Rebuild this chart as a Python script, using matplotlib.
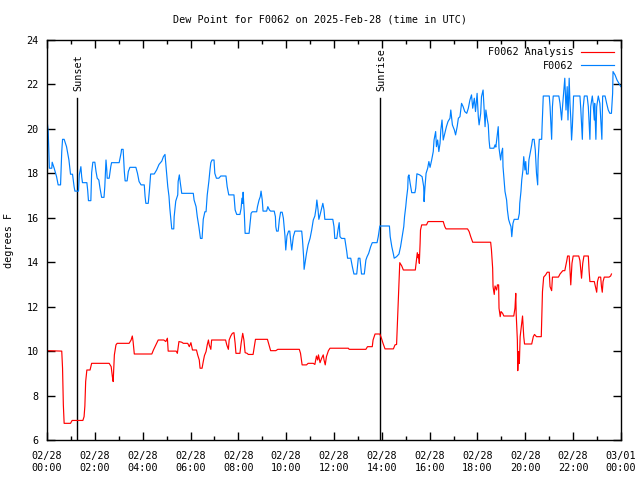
import numpy as np
import matplotlib
matplotlib.use("Agg")
from matplotlib import pyplot as plt
from matplotlib.ticker import MultipleLocator

# observed dew point (F0062), minutes after 00:00 UTC and degrees F
obs_min = [0, 3, 5, 6, 12, 13, 18, 24, 28, 34, 37, 39, 43, 49, 55, 58, 59, 64, 68, 70,
           79, 81, 85, 87, 89, 100, 102, 104, 110, 112, 115, 120, 123, 126, 130, 133, 137, 143, 145, 148,
           150, 151, 156, 160, 162, 181, 183, 186, 187, 191, 194, 196, 201, 204, 208, 223, 227, 231, 236, 244,
           246, 248, 254, 257, 260, 269, 275, 281, 288, 292, 296, 298, 303, 306, 308, 311, 313, 318, 319, 323,
           328, 329, 332, 334, 338, 367, 369, 374, 377, 381, 385, 389, 392, 396, 399, 402, 406, 409, 411, 414,
           419, 421, 425, 431, 436, 449, 452, 456, 469, 472, 476, 484, 487, 489, 491, 492, 495, 497, 507, 509,
           512, 515, 526, 528, 532, 535, 537, 540, 542, 551, 554, 558, 561, 570, 573, 574, 576, 580, 583, 586,
           590, 593, 597, 599, 602, 606, 609, 612, 614, 618, 622, 639, 641, 644, 645, 648, 651, 655, 660, 664,
           668, 672, 675, 677, 680, 682, 685, 689, 692, 695, 697, 717, 720, 722, 727, 730, 733, 735, 739, 747,
           752, 754, 762, 766, 770, 777, 781, 785, 789, 796, 800, 803, 807, 812, 816, 828, 831, 835, 859, 861,
           865, 869, 871, 877, 883, 887, 891, 895, 897, 900, 902, 905, 906, 908, 911, 915, 923, 925, 928, 935,
           941, 945, 946, 948, 951, 955, 958, 961, 965, 969, 971, 975, 977, 980, 983, 986, 988, 991, 994, 998,
           1002, 1006, 1011, 1013, 1017, 1022, 1025, 1029, 1032, 1036, 1040, 1044, 1048, 1053, 1057, 1061, 1065, 1068, 1072, 1075,
           1079, 1082, 1084, 1088, 1090, 1094, 1097, 1099, 1101, 1104, 1107, 1109, 1111, 1121, 1124, 1126, 1129, 1132, 1134, 1138,
           1140, 1143, 1144, 1147, 1149, 1153, 1155, 1158, 1161, 1164, 1166, 1169, 1172, 1182, 1185, 1186, 1189, 1191, 1194, 1196,
           1199, 1201, 1203, 1207, 1209, 1213, 1216, 1218, 1222, 1225, 1228, 1231, 1232, 1235, 1241, 1242, 1245, 1260, 1262, 1266,
           1268, 1270, 1284, 1287, 1291, 1293, 1297, 1299, 1302, 1305, 1307, 1310, 1312, 1314, 1316, 1318, 1321, 1337, 1339, 1343,
           1345, 1348, 1355, 1358, 1362, 1364, 1368, 1370, 1373, 1374, 1377, 1379, 1383, 1387, 1392, 1394, 1400, 1404, 1408, 1412,
           1416, 1419, 1420, 1425, 1430, 1437, 1440]
obs_val = [20.4, 19.9, 18.75, 18.23, 18.23, 18.5, 18.23, 17.85, 17.48, 17.48, 18.98, 19.53, 19.53, 19.2, 18.6, 18.15, 17.96, 17.96, 17.4, 17.2,
           17.2, 17.93, 18.3, 17.85, 17.58, 17.58, 17.25, 16.77, 16.77, 18.03, 18.5, 18.5, 18.08, 17.78, 17.7, 17.33, 16.92, 16.92, 17.4, 18.6,
           18.15, 17.78, 17.78, 18.3, 18.48, 18.48, 18.67, 18.93, 19.08, 19.08, 18.08, 17.66, 17.66, 18.08, 18.27, 18.27, 18.0, 17.63, 17.48, 17.48,
           16.97, 16.65, 16.65, 17.25, 17.97, 17.97, 18.15, 18.4, 18.55, 18.75, 18.85, 18.45, 17.4, 16.97, 16.45, 15.85, 15.5, 15.5, 16.05, 16.75,
           17.03, 17.63, 17.93, 17.63, 17.1, 17.1, 16.8, 16.5, 16.05, 15.6, 15.07, 15.07, 15.93, 16.27, 16.27, 17.03, 17.63, 18.18, 18.48, 18.6,
           18.6, 18.0, 17.78, 17.78, 17.88, 17.88, 17.4, 17.03, 17.03, 16.35, 16.15, 16.15, 16.43, 16.88, 16.65, 17.15, 16.2, 15.3, 15.3, 15.68,
           16.2, 16.27, 16.27, 16.5, 16.8, 16.95, 17.2, 16.8, 16.3, 16.3, 16.5, 16.35, 16.3, 16.3, 16.05, 15.6, 15.4, 15.4, 15.93, 16.25,
           16.25, 15.98, 15.18, 14.55, 15.18, 15.4, 15.4, 14.85, 14.55, 15.15, 15.4, 15.4, 15.0, 14.18, 13.68, 14.03, 14.4, 14.78, 15.08, 15.45,
           15.9, 16.08, 16.43, 16.8, 16.35, 15.93, 16.13, 16.43, 16.65, 16.35, 15.93, 15.93, 15.6, 15.07, 15.07, 15.45, 15.78, 15.15, 15.07, 15.07,
           14.48, 14.18, 14.18, 13.8, 13.47, 13.47, 14.18, 14.18, 13.47, 13.47, 14.1, 14.25, 14.4, 14.7, 14.88, 14.88, 15.15, 15.63, 15.63, 15.15,
           14.7, 14.37, 14.18, 14.25, 14.37, 14.7, 15.15, 15.6, 16.05, 16.5, 16.88, 17.33, 17.85, 17.93, 17.55, 17.13, 17.13, 17.33, 17.98, 17.93,
           17.85, 17.4, 16.73, 17.33, 18.0, 18.23, 18.53, 18.27, 18.6, 18.98, 19.5, 19.88, 19.2, 19.5, 18.98, 19.35, 19.95, 20.4, 19.5, 19.8,
           20.1, 20.33, 20.48, 20.85, 20.18, 19.95, 19.73, 20.1, 20.48, 20.55, 21.15, 21.0, 20.78, 20.7, 20.93, 21.3, 21.53, 20.93, 21.38, 20.78,
           21.6, 20.55, 20.18, 20.7, 21.45, 21.75, 20.78, 20.1, 20.85, 20.48, 20.18, 19.5, 19.13, 19.13, 19.28, 19.18, 19.65, 20.1, 19.13, 18.6,
           18.9, 19.13, 18.3, 17.63, 17.18, 16.8, 16.35, 15.93, 15.75, 15.6, 15.15, 15.75, 15.93, 15.93, 16.2, 16.65, 17.18, 17.7, 18.15, 18.75,
           18.15, 18.53, 17.97, 17.97, 18.6, 18.98, 19.28, 19.53, 19.53, 19.05, 18.0, 17.48, 18.6, 19.53, 19.53, 20.1, 21.48, 21.48, 21.0, 19.53,
           21.0, 21.48, 21.48, 21.15, 20.4, 20.93, 21.83, 22.28, 20.85, 21.9, 20.4, 22.28, 21.15, 20.48, 19.5, 20.1, 21.48, 21.48, 20.93, 19.53,
           20.93, 21.48, 21.48, 21.0, 19.53, 21.0, 21.48, 21.15, 20.4, 21.15, 19.53, 21.0, 21.48, 21.15, 19.53, 21.48, 21.48, 21.15, 20.85, 20.7,
           20.7, 21.6, 22.58, 22.43, 22.2, 21.98, 21.9]

# analysis dew point (F0062 Analysis)
ana_min = [0, 37, 39, 41, 43, 59, 63, 90, 93, 95, 97, 100, 108, 112, 156, 161, 164, 166, 169, 173,
           176, 206, 211, 214, 216, 219, 263, 267, 273, 279, 293, 298, 302, 304, 324, 327, 331, 338, 342, 353,
           357, 361, 365, 375, 378, 382, 384, 389, 392, 395, 399, 402, 405, 407, 411, 413, 448, 451, 455, 457,
           461, 465, 469, 472, 474, 484, 487, 491, 494, 497, 502, 505, 517, 520, 523, 553, 557, 561, 574, 579,
           633, 636, 640, 651, 655, 668, 672, 676, 679, 681, 685, 689, 693, 695, 698, 701, 706, 710, 756, 758,
           800, 804, 816, 818, 823, 835, 839, 843, 848, 869, 873, 877, 879, 883, 885, 890, 894, 924, 926, 929,
           931, 932, 934, 936, 937, 940, 952, 956, 994, 998, 1001, 1055, 1059, 1063, 1068, 1113, 1115, 1118, 1119, 1122,
           1124, 1128, 1130, 1133, 1134, 1137, 1139, 1143, 1146, 1171, 1174, 1176, 1177, 1180, 1181, 1183, 1185, 1187, 1191, 1193,
           1196, 1198, 1216, 1220, 1223, 1228, 1240, 1241, 1243, 1246, 1251, 1255, 1260, 1262, 1266, 1268, 1283, 1287, 1294, 1299,
           1304, 1306, 1310, 1312, 1314, 1317, 1320, 1334, 1337, 1341, 1344, 1347, 1358, 1360, 1362, 1373, 1376, 1379, 1381, 1384,
           1389, 1391, 1393, 1395, 1398, 1410, 1414, 1416]
ana_val = [10.02, 10.0, 9.23, 7.58, 6.75, 6.75, 6.88, 6.88, 7.05, 7.53, 8.63, 9.15, 9.15, 9.45, 9.45, 9.3, 8.85, 8.63, 9.83, 10.28,
           10.35, 10.35, 10.5, 10.68, 10.43, 9.87, 9.87, 10.05, 10.28, 10.5, 10.5, 10.43, 10.58, 10.0, 10.0, 9.9, 10.43, 10.4, 10.35, 10.35,
           10.2, 10.38, 10.05, 10.05, 9.83, 9.6, 9.23, 9.23, 9.53, 9.8, 9.98, 10.28, 10.5, 10.28, 10.08, 10.5, 10.5, 10.28, 10.08, 10.5,
           10.68, 10.8, 10.83, 10.35, 9.9, 9.9, 10.35, 10.8, 10.5, 9.93, 9.9, 9.85, 9.85, 10.2, 10.53, 10.53, 10.28, 10.02, 10.02, 10.08,
           10.08, 9.9, 9.38, 9.38, 9.45, 9.45, 9.4, 9.78, 9.6, 9.83, 9.48, 9.68, 9.83, 9.6, 9.38, 9.75, 10.02, 10.13, 10.13, 10.08,
           10.08, 10.2, 10.2, 10.5, 10.77, 10.77, 10.58, 10.35, 10.1, 10.1, 10.28, 10.3, 11.25, 13.05, 13.98, 13.83, 13.65, 13.65, 13.95, 14.43,
           14.2, 14.35, 13.95, 14.85, 15.45, 15.68, 15.68, 15.83, 15.83, 15.6, 15.5, 15.5, 15.38, 15.15, 14.9, 14.9, 14.55, 13.73, 12.9, 12.55,
           12.93, 12.75, 12.98, 12.98, 11.93, 11.55, 11.78, 11.7, 11.58, 11.58, 11.93, 12.6, 11.7, 10.5, 9.12, 9.98, 9.45, 10.65, 11.25, 11.58,
           10.65, 10.32, 10.32, 10.65, 10.75, 10.65, 10.65, 11.33, 12.68, 13.33, 13.43, 13.55, 13.55, 12.9, 12.72, 13.33, 13.33, 13.47, 13.62, 13.62,
           14.07, 14.28, 14.28, 13.6, 12.98, 13.95, 14.28, 14.28, 14.07, 13.28, 13.95, 14.28, 14.28, 13.6, 13.13, 13.13, 12.9, 12.65, 13.13, 13.33,
           13.33, 12.9, 12.65, 13.13, 13.33, 13.33, 13.38, 13.47]

sun_events = ["Sunset", "Sunrise"]
sun_min = [75, 835]
sun_mark_top = 21.4

tick_labels = ["02/28\n00:00", "02/28\n02:00", "02/28\n04:00", "02/28\n06:00", "02/28\n08:00",
               "02/28\n10:00", "02/28\n12:00", "02/28\n14:00", "02/28\n16:00", "02/28\n18:00",
               "02/28\n20:00", "02/28\n22:00", "03/01\n00:00"]

plt.rcParams['font.family'] = ['DejaVu Sans Mono']
plt.rcParams['font.size'] = 7.3

fig = plt.figure(figsize=(6.4, 4.8), dpi=100)
ax = fig.add_axes([47/640, 40/480, 574/640, 400/480])

for name, m in zip(sun_events, sun_min):
    h = m / 60.0
    ax.plot([h, h], [6, sun_mark_top], color='black', lw=1.0)
    ax.text(h + 0.05, sun_mark_top + 0.3, name, rotation=90, ha='center', va='bottom')

ax.plot(np.array(ana_min) / 60.0, ana_val, color='#ff0000', lw=0.85, label='F0062 Analysis')
ax.plot(np.array(obs_min) / 60.0, obs_val, color='#0080ff', lw=0.85, label='F0062')

ax.set_xlim(0, 24)
ax.set_ylim(6, 24)
ax.set_xticks(np.arange(0, 25, 2))
ax.set_xticklabels(tick_labels)
ax.xaxis.set_minor_locator(MultipleLocator(1))
ax.set_yticks(np.arange(6, 25, 2))
ax.tick_params(which='both', direction='in', top=True, right=True, width=1)
ax.tick_params(axis='x', pad=8)
ax.tick_params(axis='y', pad=6)
ax.tick_params(which='major', length=6)
ax.tick_params(which='minor', length=3)
for s in ax.spines.values():
    s.set_linewidth(1.0)

ax.set_ylabel('degrees F', labelpad=9)
fig.text(0.5, 1 - 20/480, 'Dew Point for F0062 on 2025-Feb-28 (time in UTC)', ha='center', va='center')

ax.legend(loc='upper right', frameon=False, markerfirst=False, handlelength=3.2,
          handletextpad=0.8, labelspacing=0.35, borderaxespad=0.3)

fig.savefig('out.png', dpi=100)
